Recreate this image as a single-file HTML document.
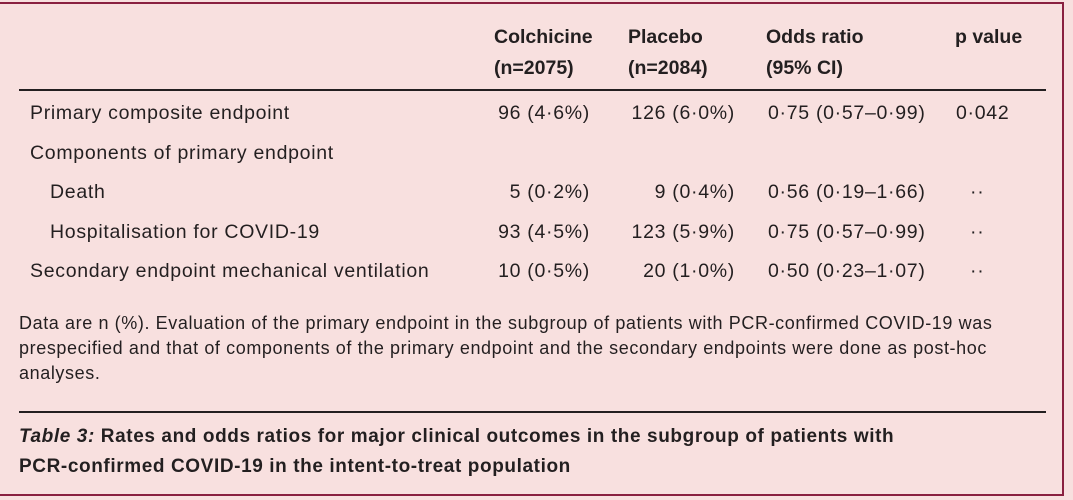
<!DOCTYPE html>
<html><head><meta charset="utf-8"><style>
body{margin:0;width:1073px;height:500px;background:#f8e0df;font-family:"Liberation Sans",sans-serif;color:#231f20;position:relative;overflow:hidden}
.box{position:absolute;left:-2px;top:2px;width:1066px;height:494px;border:2px solid #8a2040;border-left:none;box-sizing:border-box}
.t{position:absolute;font-size:19.5px;white-space:nowrap;line-height:1;letter-spacing:0.7px}
.b{font-weight:bold;letter-spacing:0}
.r{text-align:right}
.hl{position:absolute;left:19px;width:1027px;height:1.5px;background:#231f20}
.f{position:absolute;left:19px;font-size:18px;line-height:25px;width:1040px;letter-spacing:0.6px;white-space:nowrap}
.c{position:absolute;left:19px;font-size:19px;line-height:30px;font-weight:bold;letter-spacing:0.6px;white-space:nowrap}
</style></head><body>
<div class="box"></div>
<div class="t b" style="left:494px;top:28px">Colchicine</div>
<div class="t b" style="left:494px;top:59px">(n=2075)</div>
<div class="t b" style="left:628px;top:28px">Placebo</div>
<div class="t b" style="left:628px;top:59px">(n=2084)</div>
<div class="t b" style="left:766px;top:28px">Odds ratio</div>
<div class="t b" style="left:766px;top:59px">(95% CI)</div>
<div class="t b" style="left:955px;top:28px">p value</div>
<div class="hl" style="top:89px"></div>

<div class="t" style="left:30px;top:104px">Primary composite endpoint</div>
<div class="t r" style="right:483px;top:104px">96 (4·6%)</div>
<div class="t r" style="right:338px;top:104px">126 (6·0%)</div>
<div class="t" style="left:768px;top:104px">0·75 (0·57–0·99)</div>
<div class="t" style="left:956px;top:104px">0·042</div>

<div class="t" style="left:30px;top:144px">Components of primary endpoint</div>

<div class="t" style="left:50px;top:183px">Death</div>
<div class="t r" style="right:483px;top:183px">5 (0·2%)</div>
<div class="t r" style="right:338px;top:183px">9 (0·4%)</div>
<div class="t" style="left:768px;top:183px">0·56 (0·19–1·66)</div>
<div class="t" style="left:970px;top:183px">··</div>

<div class="t" style="left:50px;top:223px">Hospitalisation for COVID-19</div>
<div class="t r" style="right:483px;top:223px">93 (4·5%)</div>
<div class="t r" style="right:338px;top:223px">123 (5·9%)</div>
<div class="t" style="left:768px;top:223px">0·75 (0·57–0·99)</div>
<div class="t" style="left:970px;top:223px">··</div>

<div class="t" style="left:30px;top:262px">Secondary endpoint mechanical ventilation</div>
<div class="t r" style="right:483px;top:262px">10 (0·5%)</div>
<div class="t r" style="right:338px;top:262px">20 (1·0%)</div>
<div class="t" style="left:768px;top:262px">0·50 (0·23–1·07)</div>
<div class="t" style="left:970px;top:262px">··</div>

<div class="f" style="top:311px">Data are n (%). Evaluation of the primary endpoint in the subgroup of patients with PCR-confirmed COVID-19 was<br>prespecified and that of components of the primary endpoint and the secondary endpoints were done as post-hoc<br>analyses.</div>
<div class="hl" style="top:411px"></div>
<div class="c" style="top:422px"><i>Table 3:</i> Rates and odds ratios for major clinical outcomes in the subgroup of patients with<br>PCR-confirmed COVID-19 in the intent-to-treat population</div>
</body></html>
